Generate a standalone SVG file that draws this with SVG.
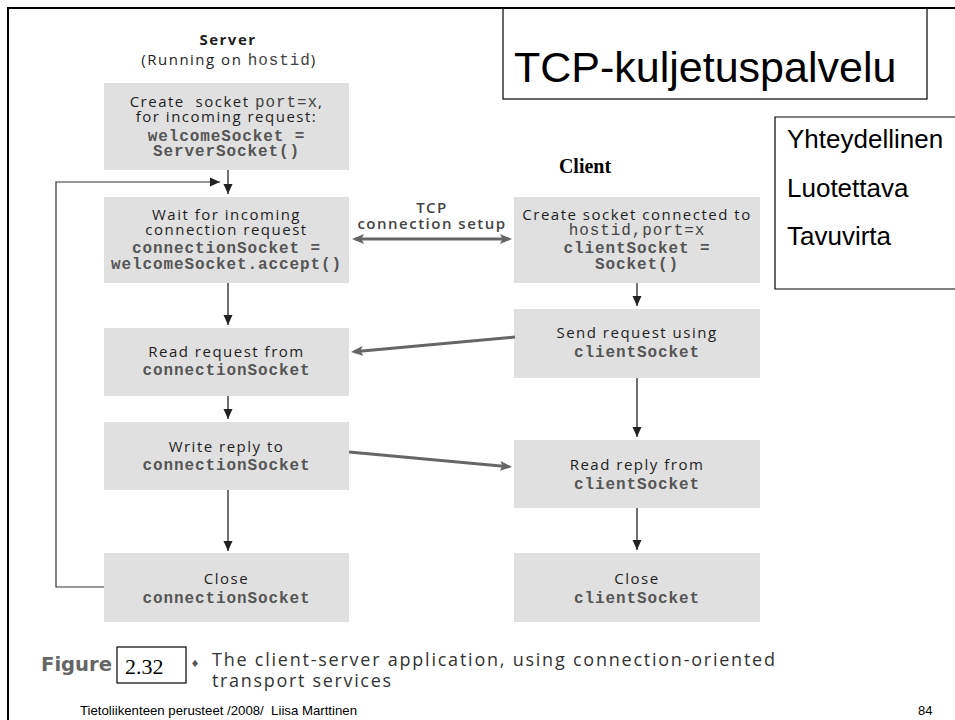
<svg xmlns="http://www.w3.org/2000/svg" width="955" height="720" viewBox="0 0 955 720">
<style>
.frame{stroke:#000;stroke-width:2;fill:none}
.outline{stroke:#000;stroke-width:1.2;fill:none}
.box{fill:#e0e0e0}
.t{font-family:'Open Sans','Noto Sans',sans-serif;font-size:15px;letter-spacing:1.5px;fill:#1e1e1e;text-anchor:middle}
.b{font-weight:bold}
.m{font-family:'Liberation Mono','Courier New',monospace;font-size:16px;font-weight:bold;letter-spacing:0.9px;fill:#555;text-anchor:middle}
.mi{font-family:'Liberation Mono','Courier New',monospace;font-size:16px;font-weight:normal;letter-spacing:0.9px;fill:#444}
.flow{stroke:#222;stroke-width:1.3;fill:none;marker-end:url(#ah)}
.loop{stroke:#333;stroke-width:1.2;fill:none;marker-end:url(#ah)}
.x{stroke:#666;stroke-width:3;fill:none;marker-end:url(#gh)}
.arial{font-family:'Liberation Sans',Arial,sans-serif;fill:#000}
.lbl{font-family:'Open Sans','Noto Sans',sans-serif;font-size:15px;font-weight:600;letter-spacing:1.5px;fill:#444;text-anchor:middle}
.cap{font-family:'Open Sans','Noto Sans',sans-serif;font-size:18px;fill:#333}
</style>
<defs>
<marker id="ah" markerUnits="userSpaceOnUse" viewBox="0 0 10 10" markerWidth="10" markerHeight="10" refX="10" refY="5" orient="auto">
<path d="M0,0.5 L10,5 L0,9.5 z" fill="#222"/>
</marker>
<marker id="gh" markerUnits="userSpaceOnUse" viewBox="0 0 12 10" markerWidth="12" markerHeight="10" refX="9" refY="5" orient="auto-start-reverse">
<path d="M0,0 L12,5 L0,10 L2.5,5 z" fill="#666"/>
</marker>
</defs>
<rect width="955" height="720" fill="#fff"/>
<path class="frame" d="M8,720 L8,8 L955,8"/>

<g id="title">
<rect class="outline" x="503" y="8" width="424" height="91"/>
<text class="arial" x="514" y="82" font-size="43">TCP-kuljetuspalvelu</text>
</g>

<g id="properties">
<path class="outline" d="M960,117 L775,117 L775,289 L960,289"/>
<text class="arial" x="787" y="148" font-size="26">Yhteydellinen</text>
<text class="arial" x="787" y="197" font-size="26">Luotettava</text>
<text class="arial" x="787" y="245" font-size="26">Tavuvirta</text>
</g>

<g id="server-label">
<text class="t b" x="228" y="45" font-size="14">Server</text>
<text class="t" x="229" y="65">(Running on <tspan class="mi">hostid</tspan>)</text>
</g>

<g id="client-label">
<text x="585" y="173" font-family="'Liberation Serif','Times New Roman',serif" font-size="20" font-weight="bold" text-anchor="middle" fill="#000">Client</text>
</g>

<g id="s-create">
<rect class="box" x="104" y="83" width="245" height="87"/>
<text class="t" x="226.5" y="107" xml:space="preserve">Create  socket <tspan class="mi">port=x</tspan>,</text>
<text class="t" x="226.5" y="122">for incoming request:</text>
<text class="m" x="226.5" y="141">welcomeSocket =</text>
<text class="m" x="226.5" y="156">ServerSocket()</text>
</g>

<g id="s-wait">
<rect class="box" x="104" y="197" width="245" height="86"/>
<text class="t" x="226.5" y="220">Wait for incoming</text>
<text class="t" x="226.5" y="235">connection request</text>
<text class="m" x="226.5" y="253">connectionSocket =</text>
<text class="m" x="226.5" y="269">welcomeSocket.accept()</text>
</g>

<g id="s-read">
<rect class="box" x="104" y="328" width="245" height="68"/>
<text class="t" x="226.5" y="357">Read request from</text>
<text class="m" x="226.5" y="375">connectionSocket</text>
</g>

<g id="s-write">
<rect class="box" x="104" y="422" width="245" height="68"/>
<text class="t" x="226.5" y="452">Write reply to</text>
<text class="m" x="226.5" y="470">connectionSocket</text>
</g>

<g id="s-close">
<rect class="box" x="104" y="553" width="245" height="69"/>
<text class="t" x="226.5" y="584">Close</text>
<text class="m" x="226.5" y="603">connectionSocket</text>
</g>

<g id="c-create">
<rect class="box" x="514" y="197" width="246" height="86"/>
<text class="t" x="637" y="220">Create socket connected to</text>
<text class="mi" x="637" y="235" text-anchor="middle">hostid,port=x</text>
<text class="m" x="637" y="253">clientSocket =</text>
<text class="m" x="637" y="269">Socket()</text>
</g>

<g id="c-send">
<rect class="box" x="514" y="309" width="246" height="69"/>
<text class="t" x="637" y="338">Send request using</text>
<text class="m" x="637" y="357">clientSocket</text>
</g>

<g id="c-read">
<rect class="box" x="514" y="440" width="246" height="68"/>
<text class="t" x="637" y="470">Read reply from</text>
<text class="m" x="637" y="489">clientSocket</text>
</g>

<g id="c-close">
<rect class="box" x="514" y="553" width="246" height="69"/>
<text class="t" x="637" y="584">Close</text>
<text class="m" x="637" y="603">clientSocket</text>
</g>

<g id="connectors">
<line class="flow" x1="228" y1="170" x2="228" y2="194"/>
<polyline class="loop" points="104,587 56,587 56,182 220,182"/>
<line class="flow" x1="228" y1="283" x2="228" y2="325"/>
<line class="flow" x1="228" y1="396" x2="228" y2="419"/>
<line class="flow" x1="228" y1="490" x2="228" y2="551"/>
<line class="flow" x1="637" y1="283" x2="637" y2="306"/>
<line class="flow" x1="637" y1="378" x2="637" y2="437"/>
<line class="flow" x1="637" y1="508" x2="637" y2="550"/>
<line class="x" x1="355" y1="239" x2="509" y2="239" marker-start="url(#gh)"/>
<line class="x" x1="515" y1="337" x2="354" y2="351.7"/>
<line class="x" x1="349" y1="452" x2="509" y2="466.7"/>
<text class="lbl" x="432" y="213">TCP</text>
<text class="lbl" x="432" y="229">connection setup</text>
</g>

<g id="caption">
<text x="41" y="671" font-family="'DejaVu Sans',Verdana,sans-serif" font-size="19" font-weight="bold" fill="#666" textLength="71" lengthAdjust="spacingAndGlyphs">Figure</text>
<rect class="outline" x="117" y="647" width="69" height="36" stroke-width="1"/>
<text x="125" y="674" font-family="'Liberation Serif','Times New Roman',serif" font-size="22" fill="#000">2.32</text>
<text x="195" y="667" font-family="'DejaVu Sans',sans-serif" font-size="10" fill="#555" text-anchor="middle">♦</text>
<text class="cap" x="212" y="666" textLength="563" lengthAdjust="spacing">The client-server application, using connection-oriented</text>
<text class="cap" x="212" y="687" textLength="179" lengthAdjust="spacing">transport services</text>
</g>

<g id="footer">
<text x="80" y="715" font-family="'Liberation Sans',Arial,sans-serif" font-size="13" fill="#000" textLength="277" lengthAdjust="spacingAndGlyphs" xml:space="preserve">Tietoliikenteen perusteet /2008/  Liisa Marttinen</text>
<text x="918" y="715" font-family="'Liberation Sans',Arial,sans-serif" font-size="13" fill="#000">84</text>
</g>
</svg>
